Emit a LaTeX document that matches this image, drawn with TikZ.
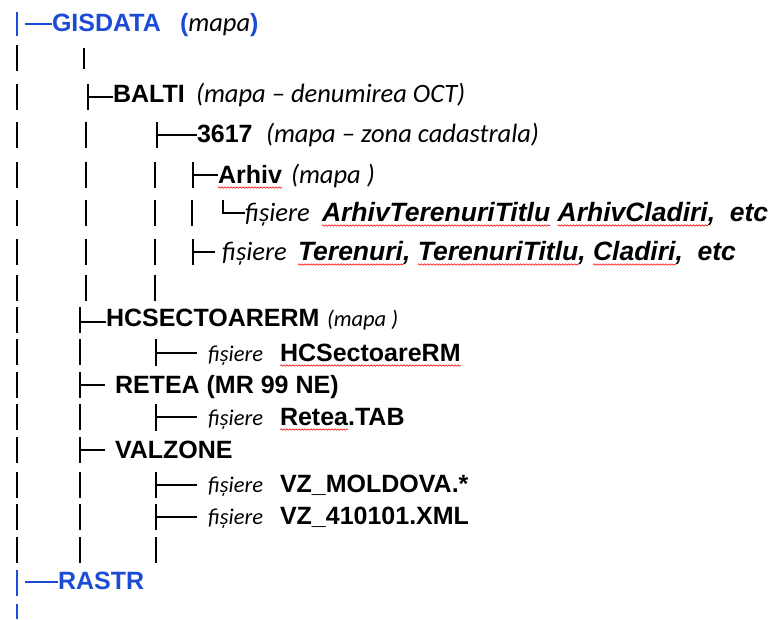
\documentclass[tikz,border=0pt]{standalone}
\usepackage{fontspec}
\setmainfont{Liberation Sans}
\newfontfamily\calfont{Carlito}
\usetikzlibrary{calc,decorations.pathmorphing}
\definecolor{treeblue}{RGB}{28,76,212}
\newcommand{\fntB}{\fontsize{25}{25}\selectfont\bfseries}
\newcommand{\fntBI}{\fontsize{26.5}{26.5}\selectfont\bfseries\itshape}
\newcommand{\fntI}{\calfont\fontsize{26.5}{26.5}\selectfont\itshape}
\newcommand{\fntS}{\calfont\fontsize{22.5}{22.5}\selectfont\itshape}
\tikzset{
  txt/.style={anchor=base west,inner sep=0pt,outer sep=0pt},
  bold/.style={txt,font=\fntB},
  boldital/.style={txt,font=\fntBI},
  ital/.style={txt,font=\fntI},
  smallital/.style={txt,font=\fntS},
  pipe/.style={line width=1.7pt,black},
  branch/.style={line width=1.5pt,black},
  bluepipe/.style={line width=1.7pt,treeblue},
  bluebranch/.style={line width=1.3pt,treeblue},
  spell/.style={red,line width=0.6pt,decorate,decoration={snake,amplitude=0.7pt,segment length=3pt}}
}
\begin{document}
\begin{tikzpicture}[x=1pt,y=-1pt]
\useasboundingbox (0,0) rectangle (771,619);
% ---------- column A ----------
\foreach \yc in {58,97,135,175,213,252,288,320,352,385,417,450,485,517,550}
  \draw[pipe] (17,\yc-13) -- (17,\yc+13);
\draw[bluepipe] (17,12) -- (17,36);
\draw[bluepipe] (17,570) -- (17,596);
\draw[bluepipe] (17,604) -- (17,619);
% ---------- column B (upper) ----------
\draw[pipe] (84,48) -- (84,69);
\foreach \yc in {135,175,213,252,288}
  \draw[pipe] (86,\yc-13) -- (86,\yc+13);
% ---------- column B (lower) ----------
\foreach \yc in {352,417,485,517,550}
  \draw[pipe] (80,\yc-13) -- (80,\yc+13);
% ---------- column C ----------
\foreach \yc in {175,213,252,288}
  \draw[pipe] (155,\yc-13) -- (155,\yc+13);
\draw[pipe] (156,537) -- (156,563);
% ---------- column D ----------
\draw[pipe] (192,200) -- (192,226);

% ---------- texts ----------
\node[bold,text=treeblue] (gis) at (52,31) {GISDATA};
\node[txt] (gism) at (180,31) {{\fntB\color{treeblue}(}{\fntI mapa}{\fntB\color{treeblue})}};

\node[bold] (balti) at (113,102) {BALTI};
\node[ital] (baltim) at (196,102) {(mapa – denumirea OCT)};

\node[bold] (z3617) at (197,142) {3617};
\node[ital] (z3617m) at (266,142) {(mapa – zona cadastrala)};

\node[bold] (arhiv) at (218,183) {Arhiv};
\node[ital] (arhivm) at (291,183) {(mapa )};

\node[ital] (f6) at (245,221) {fișiere};
\node[boldital] (r6a) at (322,221) {ArhivTerenuriTitlu};
\node[boldital] (r6b) at ($(r6a.base east)+(7.4,0)$) {ArhivCladiri};
\node[boldital] (r6c) at (r6b.base east) {,\ \ etc};

\node[ital] (f7) at (222,260) {fișiere};
\node[boldital] (r7a) at (298,260) {Terenuri};
\node[boldital] (r7b) at (r7a.base east) {,};
\node[boldital] (r7c) at ($(r7b.base east)+(7.4,0)$) {TerenuriTitlu};
\node[boldital] (r7d) at (r7c.base east) {,};
\node[boldital] (r7e) at ($(r7d.base east)+(7.4,0)$) {Cladiri};
\node[boldital] (r7f) at (r7e.base east) {,\ \ etc};

\node[bold] (hcs) at (106,326) {HCSECTOARERM};
\node[smallital] (hcsm) at (327,326) {(mapa )};

\node[smallital] (f10) at (208,361) {fișiere};
\node[bold] (hcsf) at (280,361) {HCSectoareRM};

\node[bold] (retea) at (115,393) {RETEA (MR 99 NE)};

\node[smallital] (f12) at (208,425) {fișiere};
\node[bold] (reteaf) at (280,425) {Retea};
\node[bold] (reteat) at (reteaf.base east) {.TAB};

\node[bold] (valz) at (115,458) {VALZONE};

\node[smallital] (f14) at (208,492) {fișiere};
\node[bold] (vzm) at (280,492) {VZ\_MOLDOVA.*};

\node[smallital] (f15) at (208,524) {fișiere};
\node[bold] (vzx) at (280,524) {VZ\_410101.XML};

\node[bold,text=treeblue] (rastr) at (58,589) {RASTR};

% ---------- branches ----------
\coordinate (jgis) at (25,24);
\draw[bluebranch] (jgis) -- (gis.west |- jgis);

\coordinate (jbalti) at (88,97);
\draw[pipe] (88,84) -- (88,110);
\draw[branch] (jbalti) -- (balti.west |- jbalti);

\coordinate (j3617) at (157,135);
\draw[pipe] (157,122) -- (157,148);
\draw[branch] (j3617) -- (z3617.west |- j3617);

\coordinate (jarhiv) at (193,175);
\draw[pipe] (193,162) -- (193,188);
\draw[branch] (jarhiv) -- (arhiv.west |- jarhiv);

\coordinate (j6) at (223,213);
\draw[branch] (223,200) -- (j6) -- (f6.west |- j6);

\coordinate (j7) at (193,252);
\draw[pipe] (193,239) -- (193,265);
\draw[branch] (j7) -- (215,252);

\coordinate (jhcs) at (80,322);
\draw[pipe] (80,307) -- (80,333);
\draw[branch] (jhcs) -- (hcs.west |- jhcs);

\coordinate (j10) at (156,353);
\draw[pipe] (156,339) -- (156,366);
\draw[branch] (j10) -- (197,353);

\coordinate (jretea) at (80,385);
\draw[pipe] (80,372) -- (80,398);
\draw[branch] (jretea) -- (105,385);

\coordinate (j12) at (156,417);
\draw[pipe] (156,404) -- (156,431);
\draw[branch] (j12) -- (197,417);

\coordinate (jvalz) at (80,450);
\draw[pipe] (80,437) -- (80,463);
\draw[branch] (jvalz) -- (105,450);

\coordinate (j14) at (156,485);
\draw[pipe] (156,472) -- (156,498);
\draw[branch] (j14) -- (197,485);

\coordinate (j15) at (156,517);
\draw[pipe] (156,504) -- (156,530);
\draw[branch] (j15) -- (197,517);

\coordinate (jrastr) at (25,582);
\draw[bluebranch] (jrastr) -- (rastr.west |- jrastr);

% ---------- spell-check underlines ----------
\foreach \nn in {arhiv,r6a,r6b,r7a,r7c,r7e,hcsf,reteaf}
  \draw[spell] ($(\nn.base west)+(0,4.5)$) -- ($(\nn.base east)+(0,4.5)$);
\end{tikzpicture}
\end{document}
